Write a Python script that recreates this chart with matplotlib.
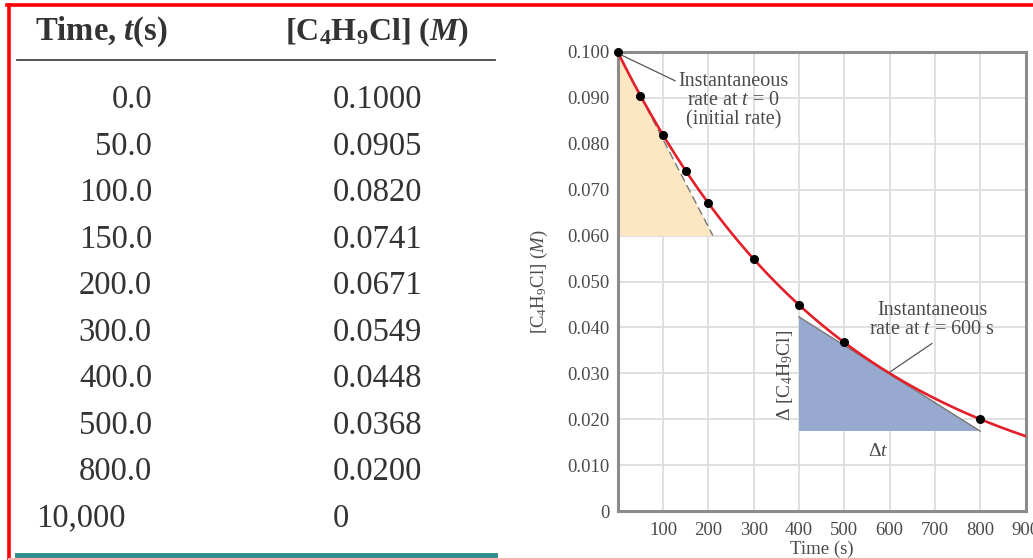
import numpy as np
import matplotlib
matplotlib.use("Agg")
import matplotlib.pyplot as plt
from matplotlib.lines import Line2D

plt.rcParams['font.family'] = ['Liberation Serif', 'DejaVu Serif']
plt.rcParams['mathtext.fontset'] = 'custom'
plt.rcParams['mathtext.rm'] = 'Liberation Serif'
plt.rcParams['mathtext.it'] = 'Liberation Serif:italic'
plt.rcParams['mathtext.bf'] = 'Liberation Serif:bold'
plt.rcParams['mathtext.bfit'] = 'Liberation Serif:italic:bold'

# ---- data ----
time_labels = ["0.0", "50.0", "100.0", "150.0", "200.0", "300.0", "400.0", "500.0", "800.0", "10,000"]
conc_labels = ["0.1000", "0.0905", "0.0820", "0.0741", "0.0671", "0.0549", "0.0448", "0.0368", "0.0200", "0"]
times = [0.0, 50.0, 100.0, 150.0, 200.0, 300.0, 400.0, 500.0, 800.0, 10000.0]
concs = [0.1000, 0.0905, 0.0820, 0.0741, 0.0671, 0.0549, 0.0448, 0.0368, 0.0200, 0.0]
x_ticks = [100, 200, 300, 400, 500, 600, 700, 800, 900]
y_ticks = [0, 0.010, 0.020, 0.030, 0.040, 0.050, 0.060, 0.070, 0.080, 0.090, 0.100]
y_ticklabels = ["0", "0.010", "0.020", "0.030", "0.040", "0.050", "0.060", "0.070", "0.080", "0.090", "0.100"]
# tangent triangles (data coordinates)
tri0 = [(0, 0.100), (0, 0.060), (210, 0.060)]
tri600 = [(400, 0.0423), (400, 0.0174), (800, 0.0174)]

W, H = 1033, 560
fig = plt.figure(figsize=(W / 100, H / 100), dpi=100)

def fx(px):
    return px / W

def fy(py):
    return 1 - py / H

TXT = '#333333'
LBL = '#4a4a4a'

# ---- border ----
fig.add_artist(Line2D([fx(7), fx(1033)], [fy(5), fy(5)], color='#ff0000', lw=2.6))
fig.add_artist(Line2D([fx(9), fx(9)], [fy(5), fy(560)], color='#ff0000', lw=2.6))
fig.add_artist(Line2D([fx(9), fx(1033)], [fy(558.5), fy(558.5)], color='#ffb0b0', lw=1.5))

# ---- table ----
fig.text(fx(35), fy(32), r"Time, $\mathbfit{t}$(s)", fontsize=23.5, fontweight='bold',
         color=TXT, ha='left', va='center')
fig.text(fx(285), fy(32), r"[C$_\mathbf{4}$H$_\mathbf{9}$Cl] ($\mathbfit{M}$)", fontsize=23,
         fontweight='bold', color=TXT, ha='left', va='center')
fig.add_artist(Line2D([fx(17), fx(495)], [fy(60), fy(60)], color='#444444', lw=1.3))
row_y0, row_dy = 100, 46.5
for i, (tl, cl) in enumerate(zip(time_labels, conc_labels)):
    y = fy(row_y0 + i * row_dy)
    if tl == "10,000":
        fig.text(fx(36), y, tl, fontsize=23.5, color=TXT, ha='left', va='center')
    else:
        fig.text(fx(152), y, tl, fontsize=23.5, color=TXT, ha='right', va='center')
    fig.text(fx(333), y, cl, fontsize=23.5, color=TXT, ha='left', va='center')
fig.add_artist(Line2D([fx(17), fx(495)], [fy(555), fy(555)], color='#2e8b8b', lw=3.5))

# ---- chart ----
ax = fig.add_axes([fx(617.7), fy(511), fx(1025.5) - fx(617.7), fy(52) - fy(511)])
ax.set_xlim(0, 900)
ax.set_ylim(0, 0.100)
ax.set_xticks(x_ticks)
ax.set_yticks(y_ticks)
ax.set_yticklabels(y_ticklabels)
ax.tick_params(length=0, labelsize=13.5, labelcolor=LBL, pad=6)
ax.tick_params(axis='x', pad=8)
ax.grid(True, color='#dddddd', lw=1.3)
ax.set_axisbelow(True)
for s in ax.spines.values():
    s.set_color('#8c8c8c')
    s.set_linewidth(2.2)

# triangles
ax.fill([p[0] for p in tri0], [p[1] for p in tri0], color='#fce7c2', zorder=1.5, lw=0)
ax.fill([p[0] for p in tri600], [p[1] for p in tri600], color='#97a9cf', zorder=1.5, lw=0)
ax.plot([tri0[0][0], tri0[2][0]], [tri0[0][1], tri0[2][1]], color='#777777', lw=1.0,
        ls=(0, (6, 3)), zorder=2)
ax.plot([tri600[0][0], tri600[2][0]], [tri600[0][1], tri600[2][1]], color='#777777', lw=1.0, zorder=2)

# fitted curve through data (quadratic fit in log space)
t_arr = np.array(times[:-1])
c_arr = np.array(concs[:-1])
coef = np.polyfit(t_arr, np.log(c_arr), 2)
tt = np.linspace(0, 900, 300)
ax.plot(tt, np.exp(np.polyval(coef, tt)), color='#e41f2a', lw=1.9, zorder=3, clip_on=True)
ax.plot(t_arr, c_arr, 'o', color='black', ms=5.5, zorder=4, clip_on=False)

ax.set_xlabel("Time (s)", fontsize=13.5, color=LBL, labelpad=1)
ax.set_ylabel(r"[C$_4$H$_9$Cl] ($M$)", fontsize=13.5, color=LBL, labelpad=12)

# annotations
ax.annotate("Instantaneous\nrate at $t$ = 0\n(initial rate)", xy=(9, 0.0993), xytext=(255, 0.0893),
            ha='center', va='center', fontsize=14.5, color=LBL, linespacing=1.0,
            arrowprops=dict(arrowstyle='-', color='#555555', lw=0.9, shrinkA=0, shrinkB=0,
                            relpos=(0.0, 0.83)), zorder=5)
ax.annotate("Instantaneous\nrate at $t$ = 600 s", xy=(601, 0.0303), xytext=(694, 0.0416),
            ha='center', va='center', fontsize=14.5, color=LBL, linespacing=1.0,
            arrowprops=dict(arrowstyle='-', color='#555555', lw=0.9, shrinkA=2, shrinkB=0,
                            relpos=(0.55, 0.0)), zorder=5)
ax.text(369, 0.0296, r"$\Delta$ [C$_4$H$_9$Cl]", rotation=90, ha='center', va='center',
        fontsize=14, color=LBL, zorder=5)
ax.text(575, 0.0129, r"$\Delta t$", ha='center', va='center', fontsize=14, color=LBL, zorder=5)

fig.savefig("out.png", dpi=100)
